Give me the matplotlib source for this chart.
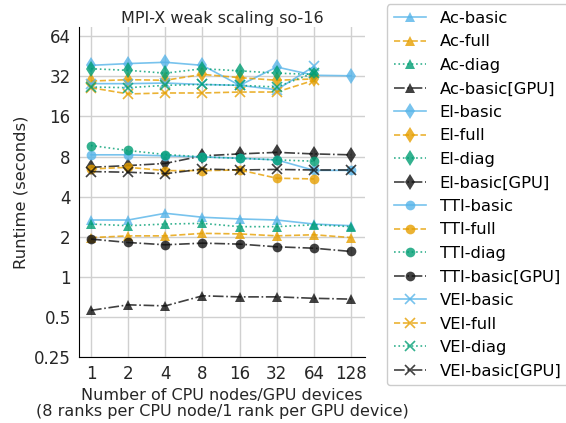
import matplotlib.pyplot as plt
from matplotlib.ticker import FixedLocator, FixedFormatter, NullLocator

# number of CPU nodes / GPU devices
nodes = [1, 2, 4, 8, 16, 32, 64, 128]

# runtimes (seconds)
ac_basic = [2.67, 2.67, 3.0, 2.8, 2.72, 2.67, 2.49, 2.42]
ac_full = [1.97, 2.03, 2.03, 2.12, 2.1, 2.03, 2.07, 1.97]
ac_diag = [2.49, 2.42, 2.49, 2.52, 2.38, 2.38, 2.46, 2.38]
ac_gpu = [0.56, 0.616, 0.605, 0.72, 0.707, 0.707, 0.69, 0.68]

el_basic = [38.7, 39.9, 40.8, 38.7, 27.4, 37.6, 32.6, 32.3]
el_full = [29.5, 30.2, 29.9, 33.1, 31.3, 29.9, 30.6]
el_diag = [36.5, 35.5, 33.8, 36.5, 35.2, 33.8, 33.1]
el_gpu = [6.64, 6.84, 7.1, 8.1, 8.37, 8.6, 8.37, 8.24]

tti_basic = [8.24, 8.24, 8.1, 7.95, 7.76, 7.55, 6.3, 6.3]
tti_full = [6.45, 6.64, 6.27, 6.27, 6.34, 5.5, 5.43]
tti_diag = [9.68, 8.88, 8.28, 7.95, 7.76, 7.55, 7.38]
tti_gpu = [1.92, 1.81, 1.74, 1.79, 1.76, 1.68, 1.64, 1.55]

vei_basic = [28.2, 28.2, 28.5, 27.8, 27.4, 25.4, 38.0]
vei_full = [26.3, 23.6, 24.0, 24.0, 24.4, 24.4, 29.9]
vei_diag = [26.6, 26.3, 27.4, 27.8, 27.4, 26.6, 34.0]
vei_gpu = [6.17, 6.1, 5.94, 6.45, 6.34, 6.4, 6.34, 6.34]

y_ticks = [0.25, 0.5, 1, 2, 4, 8, 16, 32, 64]
y_labels = ['0.25', '0.5', '1', '2', '4', '8', '16', '32', '64']

colors = {'basic': '#56B4E9', 'full': '#E69F00', 'diag': '#009E73', 'basic[GPU]': '#111111'}
styles = {'basic': '-', 'full': '--', 'diag': ':', 'basic[GPU]': '-.'}
markers = {'Ac': '^', 'El': 'd', 'TTI': 'o', 'VEI': 'x'}

series = {
    'Ac': [ac_basic, ac_full, ac_diag, ac_gpu],
    'El': [el_basic, el_full, el_diag, el_gpu],
    'TTI': [tti_basic, tti_full, tti_diag, tti_gpu],
    'VEI': [vei_basic, vei_full, vei_diag, vei_gpu],
}
kinds = ['basic', 'full', 'diag', 'basic[GPU]']

plt.rcParams['font.family'] = ['DejaVu Sans']
fig = plt.figure(figsize=(5.66, 4.23), dpi=100)
ax = fig.add_axes([0.1396, 0.156, 0.5054, 0.780])

for prop, vals in series.items():
    for kind, v in zip(kinds, vals):
        m = markers[prop]
        ax.plot(nodes[:len(v)], v, linestyle=styles[kind], color=colors[kind],
                marker=m, markersize=8 if m == 'd' else 7, linewidth=1.2, alpha=0.8,
                markeredgewidth=1.2 if m == 'x' else 0,
                label=f'{prop}-{kind}')

ax.set_xscale('log', base=2)
ax.set_yscale('log', base=2)
ax.set_xlim(0.8, 166)
ax.set_ylim(0.25, 75)
ax.xaxis.set_major_locator(FixedLocator(nodes))
ax.xaxis.set_major_formatter(FixedFormatter([str(n) for n in nodes]))
ax.xaxis.set_minor_locator(NullLocator())
ax.yaxis.set_major_locator(FixedLocator(y_ticks))
ax.yaxis.set_major_formatter(FixedFormatter(y_labels))
ax.yaxis.set_minor_locator(NullLocator())
ax.tick_params(length=0, labelsize=12, colors='#262626', pad=6)
ax.grid(True, color='#d0d0d0', linewidth=1)
ax.set_axisbelow(True)
for s in ['top', 'right']:
    ax.spines[s].set_visible(False)

ax.set_title('MPI-X weak scaling so-16', fontsize=11.5, color='#262626', pad=3)
ax.set_ylabel('Runtime (seconds)', fontsize=11.8, color='#262626')
ax.set_xlabel('Number of CPU nodes/GPU devices\n(8 ranks per CPU node/1 rank per GPU device)',
              fontsize=11.5, color='#262626', labelpad=3, linespacing=1.1)

fig.legend(loc='upper left', bbox_to_anchor=(0.684, 0.99), borderaxespad=0,
           fontsize=11.8, labelspacing=0.52, handlelength=2.0, borderpad=0.4,
           framealpha=1, edgecolor='#cccccc')

fig.savefig('out.png', dpi=100)
